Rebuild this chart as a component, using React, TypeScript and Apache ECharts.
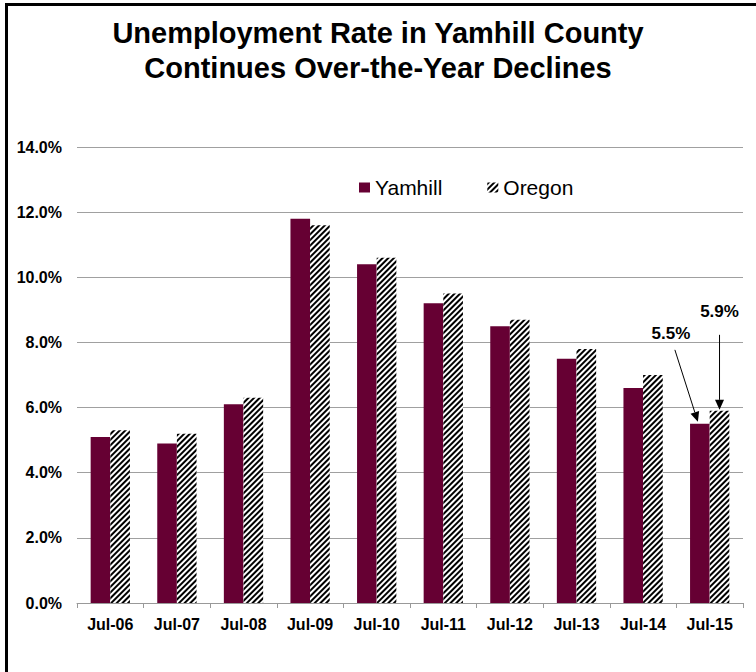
import React, { useEffect, useRef } from "react";
import * as echarts from "echarts";

const categories = ["Jul-06", "Jul-07", "Jul-08", "Jul-09", "Jul-10", "Jul-11", "Jul-12", "Jul-13", "Jul-14", "Jul-15"];
const yamhill = [5.1, 4.9, 6.1, 11.8, 10.4, 9.2, 8.5, 7.5, 6.6, 5.5];
const oregon = [5.3, 5.2, 6.3, 11.6, 10.6, 9.5, 8.7, 7.8, 7.0, 5.9];
const seriesNames = ["Yamhill", "Oregon"];
const titleLines = ["Unemployment Rate in Yamhill County", "Continues Over-the-Year Declines"];

const FONT = "'Liberation Sans', Arial, Helvetica, sans-serif";
const MAROON = "#660033";
const CAT_GAP = 0.41;

function arrow(x1: number, y1: number, x2: number, y2: number) {
  const dx = x2 - x1, dy = y2 - y1;
  const len = Math.sqrt(dx * dx + dy * dy);
  const ux = dx / len, uy = dy / len;
  const hl = 10, hw = 4.5;
  const bx = x2 - ux * hl, by = y2 - uy * hl;
  return [
    { type: "line", shape: { x1, y1, x2: bx, y2: by }, style: { stroke: "#000", lineWidth: 1 } },
    {
      type: "polygon",
      shape: { points: [[x2, y2], [bx - uy * hw, by + ux * hw], [bx + uy * hw, by - ux * hw]] },
      style: { fill: "#000" },
    },
  ];
}

export default function App() {
  const ref = useRef<HTMLDivElement>(null);
  useEffect(() => {
    const chart = echarts.init(ref.current!, null, { renderer: "svg" });
    chart.setOption({
      animation: false,
      backgroundColor: "#fff",
      textStyle: { fontFamily: FONT },
      title: {
        text: titleLines.join("\n"),
        left: "center",
        top: 15,
        padding: 0,
        textStyle: { fontFamily: FONT, fontSize: 29, fontWeight: "bold", color: "#000", lineHeight: 35 },
      },
      legend: {
        left: 359,
        top: 177,
        padding: 0,
        itemWidth: 11,
        itemHeight: 10,
        itemGap: 45,
        icon: "rect",
        textStyle: { fontFamily: FONT, fontSize: 21, color: "#000" },
        data: seriesNames,
      },
      grid: { left: 77, right: 13, top: 147, bottom: 69, containLabel: false },
      xAxis: {
        type: "category",
        data: categories,
        axisLine: { lineStyle: { color: "#999", width: 1 } },
        axisTick: { show: true, length: 5, lineStyle: { color: "#999" } },
        axisLabel: { fontFamily: FONT, fontSize: 16, fontWeight: "bold", color: "#000", margin: 13 },
      },
      yAxis: {
        type: "value",
        min: 0,
        max: 14,
        interval: 2,
        axisLine: { show: false },
        axisTick: { show: false },
        splitLine: { lineStyle: { color: "#a0a0a0", width: 1 } },
        axisLabel: {
          fontFamily: FONT,
          fontSize: 16,
          fontWeight: "bold",
          color: "#000",
          margin: 15,
          formatter: (v: number) => v.toFixed(1) + "%",
        },
      },
      series: [
        {
          name: seriesNames[0],
          type: "bar",
          data: yamhill,
          barGap: "0%",
          barCategoryGap: CAT_GAP * 100 + "%",
          itemStyle: { color: MAROON },
        },
        {
          name: seriesNames[1],
          type: "bar",
          data: oregon,
          barGap: "0%",
          barCategoryGap: CAT_GAP * 100 + "%",
          itemStyle: {
            color: "#fff",
            decal: {
              symbol: "rect",
              symbolSize: 1,
              color: "#000",
              dashArrayX: [1, 0],
              dashArrayY: [1.6, 1.4],
              rotation: -Math.PI / 4,
            },
          },
        },
      ],
    });

    const last = categories.length - 1;
    const p0 = chart.convertToPixel({ gridIndex: 0 }, [0, 0]) as number[];
    const p1 = chart.convertToPixel({ gridIndex: 0 }, [1, 0]) as number[];
    const catW = p1[0] - p0[0];
    const bw = (catW * (1 - CAT_GAP)) / 2;
    const yPt = chart.convertToPixel({ gridIndex: 0 }, [last, yamhill[last]]) as number[];
    const oPt = chart.convertToPixel({ gridIndex: 0 }, [last, oregon[last]]) as number[];
    const yx = yPt[0] - bw / 2 - 2, yy = yPt[1] - 2;
    const ox = oPt[0] + bw / 2, oy = oPt[1] - 1;

    chart.setOption({
      graphic: [
        { type: "rect", shape: { x: 5, y: 3, width: 3, height: 672 }, style: { fill: "#000" }, silent: true },
        { type: "rect", shape: { x: 5, y: 3, width: 760, height: 3 }, style: { fill: "#000" }, silent: true },
        ...arrow(yx - 23, yy - 72, yx, yy),
        ...arrow(ox, oy - 75, ox, oy),
        {
          type: "text",
          x: yx - 27,
          y: yy - 88,
          style: {
            text: yamhill[last].toFixed(1) + "%",
            font: "bold 17px " + FONT,
            fill: "#000",
            align: "center",
            verticalAlign: "middle",
          },
        },
        {
          type: "text",
          x: ox,
          y: oy - 98,
          style: {
            text: oregon[last].toFixed(1) + "%",
            font: "bold 17px " + FONT,
            fill: "#000",
            align: "center",
            verticalAlign: "middle",
          },
        },
      ],
    });

    return () => chart.dispose();
  }, []);
  return <div ref={ref} style={{ position: "fixed", left: 0, top: 0, width: 756, height: 672 }} />;
}
